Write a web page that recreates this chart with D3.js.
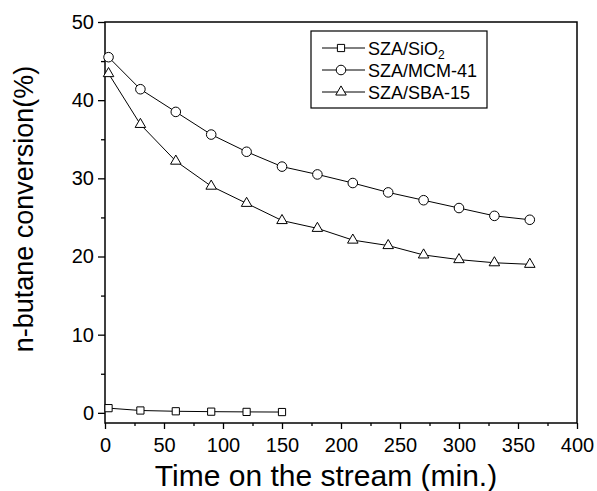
<!DOCTYPE html>
<html>
<head>
<meta charset="utf-8">
<script src="https://cdn.jsdelivr.net/npm/d3@7"></script>
<style>
  body { margin: 0; background: #fff; }
  svg { font-family: "Liberation Sans", Arial, sans-serif; }
</style>
</head>
<body>
<svg id="chart" width="597" height="491"></svg>
<script>
// time on stream (min.)
const timeMin = [3, 30, 60, 90, 120, 150, 180, 210, 240, 270, 300, 330, 360];

// n-butane conversion (%)
const sio2 = [0.6, 0.3, 0.2, 0.15, 0.12, 0.1];
const mcm41 = [45.5, 41.4, 38.5, 35.6, 33.4, 31.5, 30.5, 29.4, 28.2, 27.2, 26.2, 25.2, 24.7];
const sba15 = [43.4, 36.9, 32.2, 29.0, 26.8, 24.6, 23.6, 22.1, 21.4, 20.2, 19.6, 19.2, 19.0];

const seriesNames = ['SZA/SiO', 'SZA/MCM-41', 'SZA/SBA-15'];
const xTicks = [0, 50, 100, 150, 200, 250, 300, 350, 400];
const yTicks = [0, 10, 20, 30, 40, 50];

const svg = d3.select('#chart');
const margin = { top: 22, right: 20, bottom: 68, left: 105 };
const width = 597 - margin.left - margin.right;
const height = 491 - margin.top - margin.bottom;

const g = svg.append('g').attr('transform', `translate(${margin.left},${margin.top})`);

const x = d3.scaleLinear().domain([0, 400]).range([0, width]);
const y = d3.scaleLinear().domain([-1.3, 50]).range([height, 0]);

// axes
const xAxis = g.append('g')
  .attr('transform', `translate(0,${height})`)
  .call(d3.axisBottom(x).tickValues(xTicks).tickSize(6).tickSizeOuter(0));
const xMinor = g.append('g')
  .attr('transform', `translate(0,${height})`)
  .call(d3.axisBottom(x).tickValues(d3.range(25, 400, 50)).tickSize(3).tickFormat(''));
const yAxis = g.append('g')
  .call(d3.axisLeft(y).tickValues(yTicks).tickSize(7).tickSizeOuter(0));
const yMinor = g.append('g')
  .call(d3.axisLeft(y).tickValues(d3.range(5, 50, 10)).tickSize(4).tickFormat(''));

[xAxis, xMinor, yAxis, yMinor].forEach((a) => {
  a.select('.domain').remove();
  a.selectAll('line').attr('stroke', '#000').attr('stroke-width', 1.3);
});
xAxis.selectAll('text').attr('font-size', 20).attr('fill', '#000').attr('dy', '1em');
yAxis.selectAll('text').attr('font-size', 20).attr('fill', '#000').attr('x', -11);

// frame
g.append('rect')
  .attr('width', width).attr('height', height)
  .attr('fill', 'none').attr('stroke', '#000').attr('stroke-width', 1.5);

// axis titles
svg.append('text')
  .attr('x', 326).attr('y', 486)
  .attr('text-anchor', 'middle').attr('font-size', 30)
  .text('Time on the stream (min.)');
svg.append('text')
  .attr('transform', 'translate(33,209) rotate(-90)')
  .attr('text-anchor', 'middle').attr('font-size', 27)
  .text('n-butane conversion(%)');

const series = [
  { name: seriesNames[0], values: sio2, shape: 'square' },
  { name: seriesNames[1], values: mcm41, shape: 'circle' },
  { name: seriesNames[2], values: sba15, shape: 'triangle' },
];

const symbolFor = (shape) => {
  if (shape === 'square') return d3.symbol().type(d3.symbolSquare).size(52);
  if (shape === 'circle') return d3.symbol().type(d3.symbolCircle).size(72);
  return d3.symbol().type(d3.symbolTriangle).size(48);
};

const line = d3.line()
  .x((d) => x(d.t))
  .y((d) => y(d.v));

series.forEach((s) => {
  const pts = s.values.map((v, i) => ({ t: timeMin[i], v }));
  g.append('path')
    .datum(pts)
    .attr('fill', 'none')
    .attr('stroke', '#000')
    .attr('stroke-width', 1)
    .attr('d', line);
  g.selectAll(null)
    .data(pts)
    .enter()
    .append('path')
    .attr('d', symbolFor(s.shape))
    .attr('transform', (d) => `translate(${x(d.t)},${y(d.v)})`)
    .attr('fill', '#fff')
    .attr('stroke', '#000')
    .attr('stroke-width', 1);
});

// legend
const leg = svg.append('g').attr('transform', 'translate(311,31)');
leg.append('rect')
  .attr('width', 176).attr('height', 77)
  .attr('fill', '#fff').attr('stroke', '#000').attr('stroke-width', 1.2);
series.forEach((s, i) => {
  const row = leg.append('g').attr('transform', `translate(0,${17 + i * 22})`);
  row.append('line')
    .attr('x1', 11).attr('x2', 54)
    .attr('stroke', '#000').attr('stroke-width', 1);
  row.append('path')
    .attr('d', symbolFor(s.shape))
    .attr('transform', 'translate(30,0)')
    .attr('fill', '#fff').attr('stroke', '#000').attr('stroke-width', 1);
  const t = row.append('text')
    .attr('x', 57).attr('y', 6.5)
    .attr('font-size', 18)
    .text(s.name);
  if (i === 0) {
    t.append('tspan').attr('font-size', 12).attr('dy', 4).text('2');
  }
});
</script>
</body>
</html>
